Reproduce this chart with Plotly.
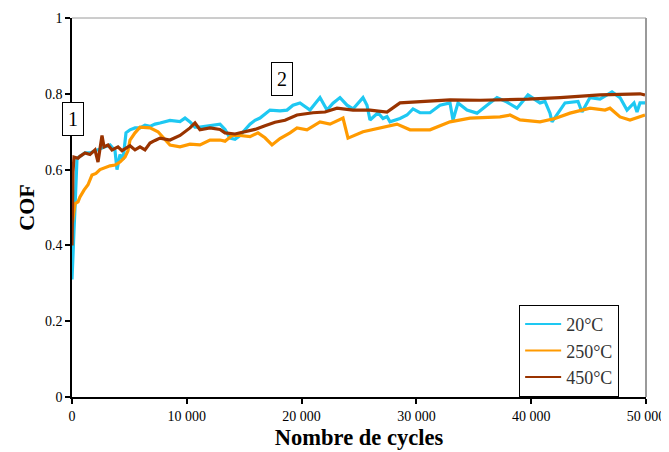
import plotly.graph_objects as go

# ---- data ----
x_20 = [0, 87, 174, 261, 348, 436, 697, 1132, 1568, 2003, 2439, 2874, 3310, 3746, 3920, 4181, 4443, 4704,
        5052, 5488, 5923, 6359, 6794, 7230, 7666, 8537, 9408, 9843, 10279, 10714, 11150, 12021, 12892,
        13328, 13763, 14199, 14634, 15070, 15505, 15941, 16376, 17247, 18118, 18729, 19251, 19861, 20732,
        21603, 22213, 22735, 23345, 23955, 24477, 25348, 25696, 25958, 26655, 27091, 27439, 27700, 28571,
        29181, 29704, 30314, 31185, 32056, 32927, 33188, 33624, 34408, 35279, 36150, 37021, 37892, 38763,
        39721, 40767, 41202, 41638, 41812, 42509, 42944, 44077, 44425, 45122, 45993, 47038, 47735, 48345,
        48955, 49216, 49477, 49913]
y_20 = [0.31, 0.40, 0.44, 0.50, 0.58, 0.63, 0.635, 0.644, 0.644, 0.65, 0.655, 0.66, 0.665, 0.65, 0.60,
        0.64, 0.626, 0.697, 0.705, 0.71, 0.71, 0.717, 0.714, 0.72, 0.723, 0.73, 0.727, 0.736, 0.726, 0.712,
        0.712, 0.716, 0.72, 0.706, 0.683, 0.68, 0.69, 0.705, 0.72, 0.73, 0.736, 0.757, 0.755, 0.757, 0.77,
        0.776, 0.757, 0.79, 0.757, 0.775, 0.79, 0.77, 0.76, 0.79, 0.77, 0.731, 0.75, 0.735, 0.74, 0.726,
        0.735, 0.744, 0.76, 0.75, 0.75, 0.77, 0.776, 0.731, 0.776, 0.757, 0.749, 0.77, 0.79, 0.778, 0.762,
        0.797, 0.776, 0.78, 0.749, 0.726, 0.757, 0.776, 0.78, 0.752, 0.79, 0.786, 0.805, 0.79, 0.757,
        0.776, 0.752, 0.776, 0.776]

x_250 = [40, 87, 261, 523, 697, 1045, 1394, 1742, 2090, 2439, 2874, 3310, 3746, 4181, 4617, 4878, 5052,
         5488, 5923, 6359, 6794, 7491, 8101, 8537, 9408, 10279, 11150, 12021, 12892, 13328, 13937, 14634,
         15505, 16202, 16812, 17422, 18118, 18990, 19600, 20470, 21603, 22474, 23606, 24042, 25348, 26829,
         28310, 29443, 31185, 32927, 34669, 37282, 38153, 39024, 40767, 42073, 43380, 45122, 46429, 46864,
         47735, 48606, 49913]
y_250 = [0.46, 0.47, 0.51, 0.515, 0.528, 0.546, 0.56, 0.586, 0.59, 0.60, 0.605, 0.61, 0.612, 0.62, 0.633,
         0.65, 0.678, 0.697, 0.712, 0.712, 0.71, 0.70, 0.678, 0.665, 0.66, 0.667, 0.665, 0.678, 0.678, 0.675,
         0.69, 0.69, 0.687, 0.697, 0.684, 0.665, 0.682, 0.697, 0.71, 0.705, 0.726, 0.72, 0.736, 0.683, 0.70,
         0.71, 0.72, 0.705, 0.705, 0.726, 0.736, 0.739, 0.744, 0.731, 0.726, 0.735, 0.749, 0.762, 0.757,
         0.762, 0.739, 0.731, 0.744]

x_450 = [0, 43, 87, 174, 523, 697, 1132, 1568, 2003, 2265, 2439, 2613, 2787, 3136, 3484, 4007, 4355, 5052,
         5488, 5923, 6359, 6794, 7230, 7666, 8537, 9408, 10279, 10714, 11150, 12021, 12892, 13328, 14199,
         15070, 15941, 16812, 17683, 18554, 19600, 20993, 22038, 23084, 24477, 25958, 27439, 28571, 31185,
         32927, 35540, 38153, 39721, 42509, 45993, 49477, 49913]
y_450 = [0.40, 0.55, 0.594, 0.633, 0.63, 0.635, 0.644, 0.64, 0.652, 0.62, 0.66, 0.69, 0.66, 0.665, 0.652,
         0.66, 0.65, 0.663, 0.652, 0.66, 0.652, 0.67, 0.677, 0.683, 0.678, 0.69, 0.71, 0.723, 0.705, 0.71,
         0.706, 0.697, 0.694, 0.70, 0.706, 0.716, 0.725, 0.73, 0.744, 0.75, 0.752, 0.762, 0.757, 0.757,
         0.752, 0.776, 0.78, 0.784, 0.783, 0.784, 0.786, 0.79, 0.797, 0.80, 0.797]

series_names = ["20°C", "250°C", "450°C"]
series_colors = ["#1EC8F2", "#FF9A00", "#993300"]

x_tickvals = [0, 10000, 20000, 30000, 40000, 50000]
x_ticktext = ["0", "10 000", "20 000", "30 000", "40 000", "50 000"]
y_tickvals = [0, 0.2, 0.4, 0.6, 0.8, 1]
y_ticktext = ["0", "0.2", "0.4", "0.6", "0.8", "1"]

FONT = "Liberation Serif, Times New Roman, serif"

fig = go.Figure()
for xs, ys, name, col in zip([x_20, x_250, x_450], [y_20, y_250, y_450], series_names, series_colors):
    fig.add_trace(go.Scatter(x=xs, y=ys, mode="lines", name=name, legendgroup=name,
                             showlegend=False, line=dict(color=col, width=3.2)))
# legend entries with thinner sample lines, as in the reference
for name, col in zip(series_names, series_colors):
    fig.add_trace(go.Scatter(x=[None], y=[None], mode="lines", name=name, legendgroup=name,
                             line=dict(color=col, width=2)))

# the page body adds an 8px offset, so the figure is sized to fill the rest of the window
fig.update_layout(
    width=661, height=444,
    margin=dict(l=64, r=23, t=10, b=55),
    paper_bgcolor="white", plot_bgcolor="white",
    font=dict(family=FONT, color="black", size=14),
    showlegend=True,
    legend=dict(x=0.779, y=0.243, xanchor="left", yanchor="top",
                bgcolor="white", bordercolor="black", borderwidth=1,
                font=dict(family=FONT, size=18, color="#333333"),
                itemwidth=36, tracegroupgap=0),
    xaxis=dict(range=[0, 50000], tickvals=x_tickvals, ticktext=x_ticktext, automargin=False,
               showgrid=False, zeroline=False, showline=True, linecolor="black", linewidth=1.5,
               ticks="outside", ticklen=5, tickcolor="black", tickwidth=1.5,
               tickfont=dict(family=FONT, size=14, color="black"),
               title=dict(text="<b>Nombre de cycles</b>", font=dict(family=FONT, size=22.5, color="black"),
                          standoff=7)),
    yaxis=dict(range=[0, 1], tickvals=y_tickvals, ticktext=y_ticktext, automargin=False,
               showgrid=False, zeroline=False, showline=True, linecolor="black", linewidth=1.5,
               ticks="outside", ticklen=5, tickcolor="black", tickwidth=1.5,
               tickfont=dict(family=FONT, size=14, color="black"),
               title=dict(text="<b>COF</b>", font=dict(family=FONT, size=22, color="black"),
                          standoff=4)),
    shapes=[
        dict(type="line", xref="paper", yref="paper", x0=0, x1=1, y0=1, y1=1,
             line=dict(color="#9a9a9a", width=1)),
        dict(type="line", xref="paper", yref="paper", x0=1, x1=1, y0=0, y1=1,
             line=dict(color="#9a9a9a", width=2)),
    ],
    annotations=[
        dict(x=87, y=0.733, xref="x", yref="y", text="1", showarrow=False,
             font=dict(family=FONT, size=20, color="black"),
             bordercolor="black", borderwidth=1, borderpad=5, bgcolor="white"),
        dict(x=18290, y=0.839, xref="x", yref="y", text="2", showarrow=False,
             font=dict(family=FONT, size=20, color="black"),
             bordercolor="black", borderwidth=1, borderpad=5, bgcolor="white"),
    ],
)

fig.write_html("out.html")
